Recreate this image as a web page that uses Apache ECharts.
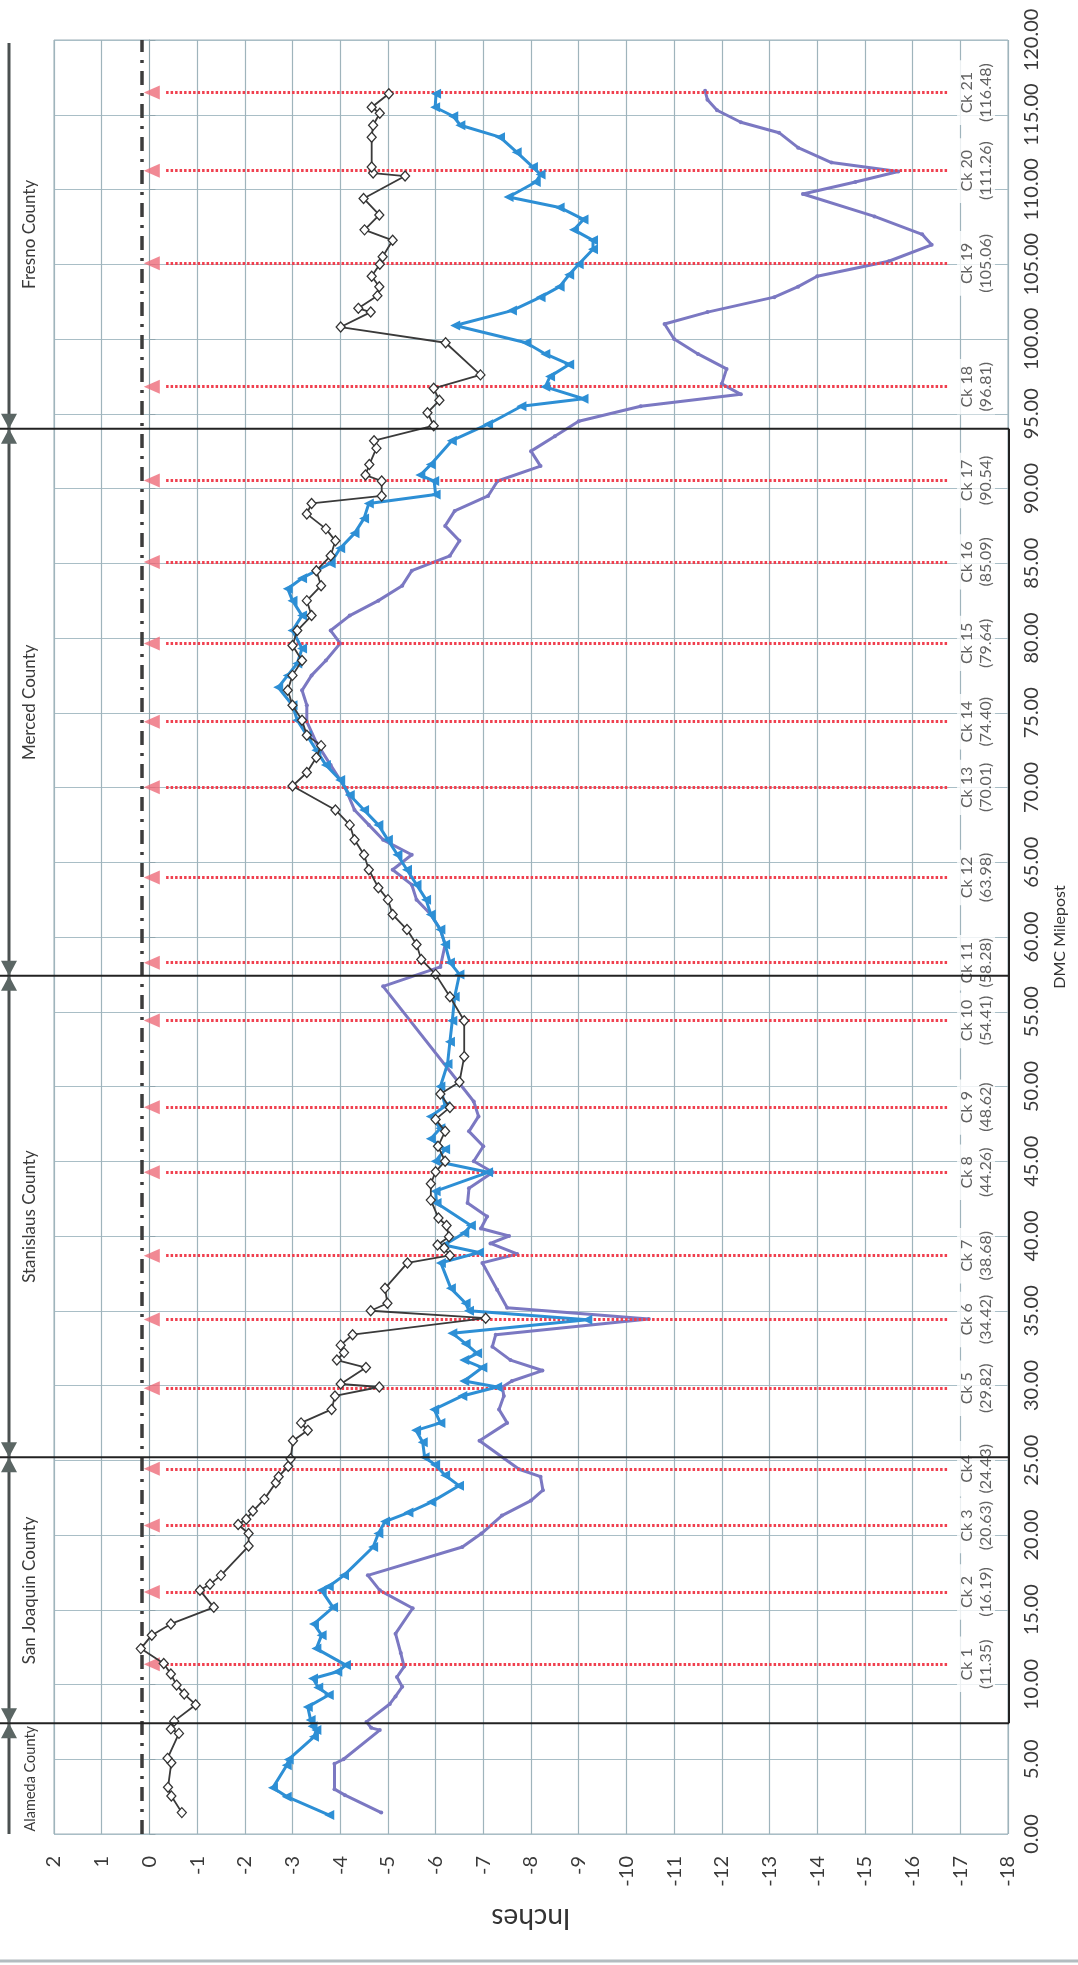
<!DOCTYPE html>
<html><head><meta charset="utf-8">
<script src="https://cdn.jsdelivr.net/npm/echarts@6/dist/echarts.min.js"></script>
<style>html,body{margin:0;padding:0;background:#fff}#c{width:1078px;height:1965px}</style>
</head><body><div id="c"></div>
<script>
// ---- data ----
const ckNames = ['Ck 1','Ck 2','Ck 3','Ck4','Ck 5','Ck 6','Ck 7','Ck 8','Ck 9','Ck 10','Ck 11','Ck 12','Ck 13','Ck 14','Ck 15','Ck 16','Ck 17','Ck 18','Ck 19','Ck 20','Ck 21'];
const ckMileposts = [11.35,16.19,20.63,24.43,29.82,34.42,38.68,44.26,48.62,54.41,58.28,63.98,70.01,74.40,79.64,85.09,90.54,96.81,105.06,111.26,116.48];
const countyNames = ['Alameda County','San Joaquin County','Stanislaus County','Merced County','Fresno County'];
const countyBounds = [0, 7.4, 25.2, 57.4, 94.0, 120];
const countyFont = [14.5, 17, 17, 17, 17];
const refLineInches = 0.15;

const blackMile = [1.43,2.54,3.12,4.77,5.06,6.73,7.03,7.55,8.65,9.36,9.96,10.7,11.4,12.4,13.3,14.05,15.16,16.3,16.7,17.3,19.26,20.1,20.7,21.05,21.6,22.4,23.5,23.9,24.6,25.1,26.3,27.0,27.5,28.4,29.3,29.9,30.1,31.2,31.7,32.2,32.7,33.4,34.5,35.0,35.5,36.5,38.2,38.7,39.2,39.4,39.95,40.7,41.2,42.4,43.5,44.3,45.0,46.0,47.0,47.8,48.6,49.5,50.3,52.0,54.4,56.0,57.5,58.5,59.5,60.5,61.5,62.5,63.3,64.5,65.5,66.5,67.5,68.5,70.1,71.0,72.0,72.8,73.5,74.5,75.5,76.5,77.5,78.5,79.5,80.5,81.5,82.5,83.5,84.5,85.5,86.5,87.3,88.3,89.0,89.5,90.5,90.9,91.6,92.7,93.2,94.2,95.07,95.9,96.7,97.6,99.75,100.8,101.8,102.05,102.9,103.5,104.2,105.0,105.5,106.6,107.3,108.3,109.4,110.9,111.1,111.5,113.5,114.3,115.1,115.5,116.4];
const blackInch = [-0.68,-0.46,-0.39,-0.46,-0.38,-0.62,-0.45,-0.52,-0.97,-0.73,-0.57,-0.45,-0.30,0.18,-0.05,-0.45,-1.35,-1.06,-1.27,-1.50,-2.08,-2.08,-1.86,-2.03,-2.17,-2.41,-2.65,-2.71,-2.91,-2.96,-3.01,-3.32,-3.18,-3.82,-3.89,-4.82,-4.01,-4.54,-3.93,-4.08,-4.01,-4.26,-7.05,-4.64,-4.99,-4.94,-5.41,-6.30,-6.18,-6.04,-6.28,-6.23,-6.06,-5.9,-5.9,-6.0,-6.2,-6.05,-6.2,-6.0,-6.3,-6.1,-6.5,-6.6,-6.6,-6.3,-6.0,-5.7,-5.6,-5.4,-5.1,-5.0,-4.8,-4.6,-4.5,-4.3,-4.2,-3.9,-3.0,-3.3,-3.5,-3.6,-3.3,-3.2,-3.0,-2.9,-3.0,-3.2,-3.0,-3.1,-3.4,-3.3,-3.6,-3.5,-3.8,-3.9,-3.7,-3.3,-3.4,-4.87,-4.87,-4.53,-4.61,-4.76,-4.71,-5.96,-5.83,-6.08,-5.96,-6.94,-6.21,-4.01,-4.64,-4.38,-4.78,-4.82,-4.66,-4.83,-4.89,-5.1,-4.51,-4.82,-4.49,-5.36,-4.69,-4.66,-4.66,-4.69,-4.83,-4.66,-5.02];

const blueMile = [1.27,2.5,3.1,4.6,4.99,6.5,6.95,7.2,7.62,8.5,9.3,9.8,10.4,10.85,11.3,12.4,13.3,14.05,15.16,16.3,16.55,17.3,19.2,20.1,20.9,21.5,22.2,23.3,24.0,24.7,25.2,26.2,27.0,27.5,28.4,29.3,29.9,30.3,31.2,31.7,32.15,32.8,33.5,34.4,35.0,35.5,36.5,38.2,38.9,39.4,40.2,40.7,42.2,43.0,44.26,45.0,45.8,46.5,47.2,48.0,48.7,50.0,51.5,53.0,54.4,56.0,57.5,58.3,59.5,60.5,61.5,62.5,63.5,64.5,65.5,66.5,67.5,68.5,69.5,70.5,71.5,72.5,73.5,74.5,75.5,76.7,77.5,78.3,79.3,80.5,81.5,82.5,83.3,84.0,85.0,86.0,87.0,88.0,89.0,89.6,90.5,90.9,91.6,93.2,94.3,95.5,96.0,96.8,97.5,98.3,99.0,99.75,100.9,101.9,102.8,103.5,104.3,105.0,106.0,106.6,107.3,108.0,108.8,109.5,110.5,111.0,111.5,112.5,113.5,114.3,114.9,115.5,116.4];
const blueInch = [-3.77,-2.88,-2.59,-2.88,-2.92,-3.45,-3.5,-3.42,-3.38,-3.32,-3.76,-3.54,-3.43,-3.94,-4.12,-3.5,-3.61,-3.45,-3.85,-3.61,-3.76,-4.08,-4.69,-4.8,-4.94,-5.43,-5.91,-6.49,-6.2,-5.99,-5.77,-5.73,-5.59,-6.1,-5.97,-6.56,-7.29,-6.6,-6.98,-6.6,-6.87,-6.63,-6.35,-9.18,-6.7,-6.63,-6.32,-6.11,-6.91,-6.18,-6.6,-6.74,-6.02,-6.0,-7.1,-6.0,-6.2,-5.9,-6.1,-5.9,-6.2,-6.1,-6.25,-6.3,-6.35,-6.4,-6.5,-6.3,-6.2,-6.1,-5.9,-5.8,-5.6,-5.4,-5.2,-5.0,-4.8,-4.5,-4.2,-4.0,-3.7,-3.5,-3.3,-3.1,-3.0,-2.7,-2.9,-3.1,-3.2,-3.0,-3.2,-3.0,-2.9,-3.2,-3.8,-4.0,-4.3,-4.5,-4.6,-6.0,-5.97,-5.68,-5.9,-6.34,-7.1,-7.8,-9.1,-8.3,-8.4,-8.8,-8.3,-7.9,-6.41,-7.6,-8.2,-8.6,-8.8,-9.0,-9.3,-9.3,-8.9,-9.1,-8.6,-7.53,-8.1,-8.2,-8.04,-7.7,-7.35,-6.52,-6.37,-5.99,-6.01];

const purpleMile = [1.43,2.6,3.0,4.7,5.0,6.95,7.1,7.5,8.7,9.2,9.85,10.5,11.2,12.1,13.4,15.1,16.3,17.3,19.2,20.1,21.3,22.3,23.0,23.9,24.4,26.3,27.5,28.4,29.3,29.9,30.3,31.0,31.7,32.6,33.4,34.45,35.2,36.4,38.2,38.8,39.5,40.0,40.5,41.3,42.2,43.2,44.26,45.0,46.0,47.0,48.0,49.0,56.7,58.0,59.5,60.5,61.5,62.5,63.5,64.5,65.5,66.5,67.5,68.5,70.0,71.5,73.0,74.4,75.5,76.5,77.5,78.5,79.64,80.5,81.5,82.5,83.5,84.5,85.5,86.5,87.5,88.5,89.5,90.5,91.5,92.5,93.5,94.5,95.5,96.3,97.0,98.0,99.0,100.0,101.0,101.8,102.8,103.5,104.2,105.2,106.3,107.0,108.2,109.7,110.5,111.2,111.8,112.8,113.8,114.5,115.3,116.0,116.6];
const purpleInch = [-4.86,-4.1,-3.88,-3.88,-4.07,-4.83,-4.65,-4.55,-5.04,-5.16,-5.3,-5.19,-5.34,-5.27,-5.16,-5.52,-4.83,-4.58,-6.56,-6.96,-7.39,-8.0,-8.25,-8.2,-7.75,-6.92,-7.5,-7.33,-7.43,-7.4,-7.6,-8.24,-7.57,-7.19,-7.26,-10.47,-7.5,-7.29,-6.98,-7.71,-7.15,-7.54,-6.95,-7.08,-6.67,-6.7,-7.2,-6.8,-7.0,-6.7,-6.9,-6.8,-4.9,-6.1,-6.2,-6.1,-5.9,-5.6,-5.5,-5.1,-5.5,-4.9,-4.6,-4.3,-4.1,-3.8,-3.5,-3.3,-3.3,-3.2,-3.4,-3.7,-4.0,-3.8,-4.2,-4.8,-5.3,-5.5,-6.3,-6.5,-6.2,-6.4,-7.1,-7.3,-8.2,-8.0,-8.5,-9.0,-10.3,-12.4,-12.0,-12.1,-11.5,-11.0,-10.8,-11.7,-13.1,-13.6,-14.0,-15.5,-16.4,-16.2,-15.2,-13.7,-14.8,-15.7,-14.3,-13.6,-13.2,-12.4,-11.9,-11.7,-11.65];

// ---- chart ----
const FONT = 'Lato';
const chart = echarts.init(document.getElementById('c'), null, {renderer:'canvas'});
const zip = (ms, vs) => ms.map((m,i)=>[vs[i], m]);
const ARROW_X = -0.05, DOT_START = -0.35, DOT_END = -16.75, LABEL_X = -17.33;

const option = {
  animation:false,
  backgroundColor:'#fff',
  grid:{left:54, right:70, top:40, bottom:131, show:true, borderColor:'#9fb1b8', borderWidth:1},
  xAxis:{type:'value', min:-18, max:2, interval:1, inverse:true, position:'bottom',
    axisLine:{show:false}, axisTick:{show:false},
    splitLine:{show:true, lineStyle:{color:'#9fb4bc', width:1.2}},
    axisLabel:{rotate:90, margin:22, fontSize:20, color:'#3a3a3a', fontFamily:FONT},
    name:'Inches', nameLocation:'middle', nameGap:70, nameRotate:180,
    nameTextStyle:{fontSize:28, color:'#333', fontFamily:FONT}},
  yAxis:{type:'value', min:0, max:120, interval:5, position:'right',
    axisLine:{show:true, lineStyle:{color:'#8fa5ad', width:1}},
    axisTick:{show:true, length:6, lineStyle:{color:'#8fa5ad'}},
    splitLine:{show:true, lineStyle:{color:'#a9bec6', width:1.2}},
    axisLabel:{rotate:90, margin:14, fontSize:20, color:'#3a3a3a', fontFamily:FONT, formatter:v=>v.toFixed(2)},
    name:'DMC Milepost', nameLocation:'middle', nameRotate:90, nameGap:44,
    nameTextStyle:{fontSize:16, color:'#333', fontFamily:FONT}},
  series:[
    {type:'scatter', name:'ck', data:ckMileposts.map(m=>[ARROW_X, m]), symbol:'triangle', symbolRotate:90, symbolSize:[14,16],
     itemStyle:{color:'#ee6b79'}, silent:true, z:3,
     markLine:{silent:true, symbol:'none', label:{show:false},
       lineStyle:{color:'#f0404f', width:3, type:[2.5,2]},
       data: ckMileposts.map(m=>[{coord:[DOT_START, m]},{coord:[DOT_END, m]}])}},
    {type:'line', name:'ref', data:[], silent:true,
     markLine:{silent:true, symbol:'none', label:{show:false},
       lineStyle:{color:'#3c3c3c', width:3.5, type:[14,8,3,8]},
       data:[{xAxis:refLineInches}]}},
    {type:'line', name:'purple', data:zip(purpleMile, purpleInch), symbol:'circle', symbolSize:4, showSymbol:true,
     lineStyle:{color:'#7b78c2', width:3}, itemStyle:{color:'#7b78c2'}, z:4, silent:true},
    {type:'line', name:'blue', data:zip(blueMile, blueInch), symbol:'triangle', symbolRotate:90, symbolSize:10,
     lineStyle:{color:'#2d8fd5', width:3}, itemStyle:{color:'#2d8fd5'}, z:5, silent:true},
    {type:'line', name:'black', data:zip(blackMile, blackInch), symbol:'diamond', symbolSize:[9,10],
     lineStyle:{color:'#3a3a3a', width:1.8}, itemStyle:{color:'#ffffff', borderColor:'#333', borderWidth:1.3}, z:6, silent:true},
    {type:'scatter', name:'cklabels', data:ckMileposts.map(m=>[LABEL_X, m]), symbolSize:0, silent:true, z:7,
     label:{show:true, position:'inside', rotate:90, fontSize:16, lineHeight:19, color:'#3a3a3a', fontFamily:FONT,
       backgroundColor:'#ffffff', padding:[0,3],
       formatter:p=>ckNames[p.dataIndex]+'\n('+ckMileposts[p.dataIndex].toFixed(2)+')'}}
  ]
};
chart.setOption(option);

// ---- county annotations built from the chart's own scales ----
const px = (x,y)=>chart.convertToPixel({gridIndex:0},[x,y]);
const g = [];
const xRight = px(-18, 0)[0];
const yTop = px(0,120)[1], yBot = px(0,0)[1];
const LX = 9;
g.push({type:'line', shape:{x1:LX, y1:yTop+3, x2:LX, y2:yBot}, style:{stroke:'#4a5050', lineWidth:3}, z:20});
for (let i=1;i<countyBounds.length-1;i++){
  const y = px(0,countyBounds[i])[1];
  g.push({type:'line', shape:{x1:0, y1:y, x2:xRight+1, y2:y}, style:{stroke:'#222', lineWidth:2}, z:20});
  g.push({type:'polygon', shape:{points:[[LX-8,y-15],[LX+8,y-15],[LX,y]]}, style:{fill:'#5b6664'}, z:21});
  g.push({type:'polygon', shape:{points:[[LX-8,y+15],[LX+8,y+15],[LX,y]]}, style:{fill:'#5b6664'}, z:21});
}
const yA = px(0,countyBounds[1])[1], yB = px(0,countyBounds[4])[1];
g.push({type:'line', shape:{x1:xRight+1, y1:yA, x2:xRight+1, y2:yB}, style:{stroke:'#222', lineWidth:2}, z:20});
for (let i=0;i<countyNames.length;i++){
  const ym = px(0,(countyBounds[i]+countyBounds[i+1])/2)[1];
  g.push({type:'text', x:30, y:ym, rotation:Math.PI/2, z:22,
    style:{text:countyNames[i], fontSize:countyFont[i], fontFamily:FONT, fill:'#3a3a3a', align:'center', verticalAlign:'middle'}});
}
g.push({type:'line', shape:{x1:0, y1:1961, x2:1078, y2:1961}, style:{stroke:'#b4bcc0', lineWidth:3}, z:20});
chart.setOption({graphic:g});
</script>
</body></html>
